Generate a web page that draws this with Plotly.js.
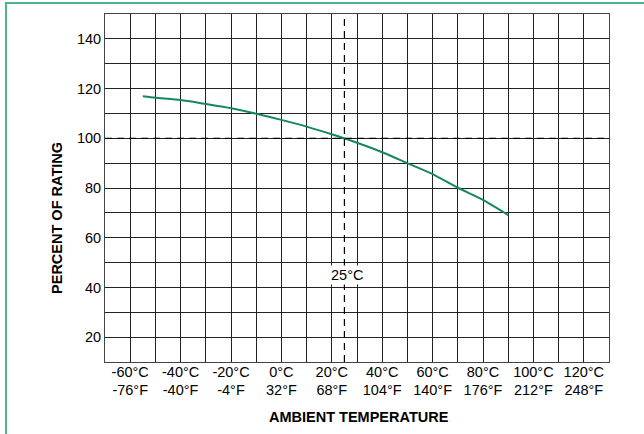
<!DOCTYPE html>
<html>
<head>
<meta charset="utf-8">
<script src="https://cdn.plot.ly/plotly-3.0.1.min.js"></script>
<style>
  html, body { margin: 0; padding: 0; background: #fff; }
  #wrap { position: relative; width: 644px; height: 434px; overflow: hidden; }
  #chart { width: 644px; height: 434px; }
  #frame { position: absolute; left: 5px; top: 2px; width: 700px; height: 500px;
           border-left: 2px solid #4fb48a; border-top: 2px solid #4fb48a; pointer-events: none; }
</style>
</head>
<body>
<div id="wrap">
  <div id="chart"></div>
  <div id="frame"></div>
</div>
<script>
// Data
const tempC = [-55, -50, -40, -30, -20, -10, 0, 10, 20, 30, 40, 50, 60, 70, 80, 90];
const percentRating = [116.9, 116.3, 115.4, 113.8, 112.1, 109.9, 107.4, 104.7, 101.6, 98.2, 94.4, 90.0, 85.6, 80.1, 75.2, 69.1];

const tickC = [-60, -40, -20, 0, 20, 40, 60, 80, 100, 120];
const tickF = [-76, -40, -4, 32, 68, 104, 140, 176, 212, 248];
const tickY = [20, 40, 60, 80, 100, 120, 140];

const refTempC = 25;
const refPercent = 100;

const tickTextC = tickC.map(c => c + '°C');
const tickTextF = tickF.map(f => f + '°F');

const font = 'Liberation Sans, Arial, Helvetica, sans-serif';
const gridCol = '#222';
const tickFontSize = 14.5;

const trace = {
  x: tempC,
  y: percentRating,
  type: 'scatter',
  mode: 'lines',
  line: { color: '#15875f', width: 2, shape: 'spline', smoothing: 0.6 },
  hoverinfo: 'x+y'
};

// invisible trace that carries the °F axis
const traceF = {
  x: tickC,
  y: tickC.map(() => null),
  xaxis: 'x2',
  type: 'scatter',
  mode: 'lines',
  showlegend: false,
  hoverinfo: 'skip'
};

const layout = {
  width: 644,
  height: 434,
  margin: { l: 105, r: 35, t: 14, b: 72 },
  paper_bgcolor: '#fff',
  plot_bgcolor: '#fff',
  showlegend: false,
  font: { family: font, size: tickFontSize, color: '#000' },
  xaxis: {
    range: [-70, 130],
    tickvals: tickC,
    ticktext: tickTextC,
    ticks: '',
    ticklabelstandoff: -3,
    showgrid: true,
    gridcolor: gridCol,
    gridwidth: 1,
    minor: { dtick: 10, tick0: 0, showgrid: true, gridcolor: gridCol, gridwidth: 1 },
    showline: true,
    linecolor: '#444',
    linewidth: 1,
    mirror: true,
    zeroline: false,
    tickfont: { family: font, size: tickFontSize, color: '#000' },
    fixedrange: true
  },
  xaxis2: {
    range: [-70, 130],
    overlaying: 'x',
    anchor: 'y',
    side: 'bottom',
    tickvals: tickC,
    ticktext: tickTextF,
    ticks: '',
    ticklabelstandoff: 17,
    showgrid: false,
    showline: false,
    zeroline: false,
    tickfont: { family: font, size: tickFontSize, color: '#000' },
    fixedrange: true
  },
  yaxis: {
    range: [10, 150],
    tickvals: tickY,
    ticks: '',
    showgrid: true,
    gridcolor: gridCol,
    gridwidth: 1,
    minor: { dtick: 10, tick0: 0, showgrid: true, gridcolor: gridCol, gridwidth: 1 },
    showline: true,
    linecolor: '#444',
    linewidth: 1,
    mirror: true,
    zeroline: false,
    tickfont: { family: font, size: tickFontSize, color: '#000' },
    fixedrange: true
  },
  shapes: [
    { type: 'line', xref: 'x', yref: 'paper', x0: refTempC, x1: refTempC, y0: 0, y1: 1,
      line: { color: '#000', width: 1.2, dash: '7px,5px' }, layer: 'above' },
    { type: 'line', xref: 'paper', yref: 'y', x0: 0, x1: 1, y0: refPercent, y1: refPercent,
      line: { color: '#000', width: 1.2, dash: '7px,5px' }, layer: 'above' }
  ],
  annotations: [
    { x: refTempC + 1, y: 45, xref: 'x', yref: 'y', text: '25°C', showarrow: false,
      bgcolor: '#fff', borderpad: 1, font: { family: font, size: 14.5, color: '#000' } },
    { x: -0.095, xref: 'paper', xanchor: 'center', y: 68, yref: 'y', text: '<b>PERCENT OF RATING</b>', textangle: -90,
      showarrow: false, font: { family: font, size: 14.5, color: '#000' } },
    { x: 0.503, xref: 'paper', xanchor: 'center', y: -0.158, yref: 'paper', yanchor: 'middle',
      text: '<b>AMBIENT TEMPERATURE</b>', showarrow: false, font: { family: font, size: 14.5, color: '#000' } }
  ]
};

Plotly.newPlot('chart', [trace, traceF], layout, { displayModeBar: false, staticPlot: true });
</script>
</body>
</html>
